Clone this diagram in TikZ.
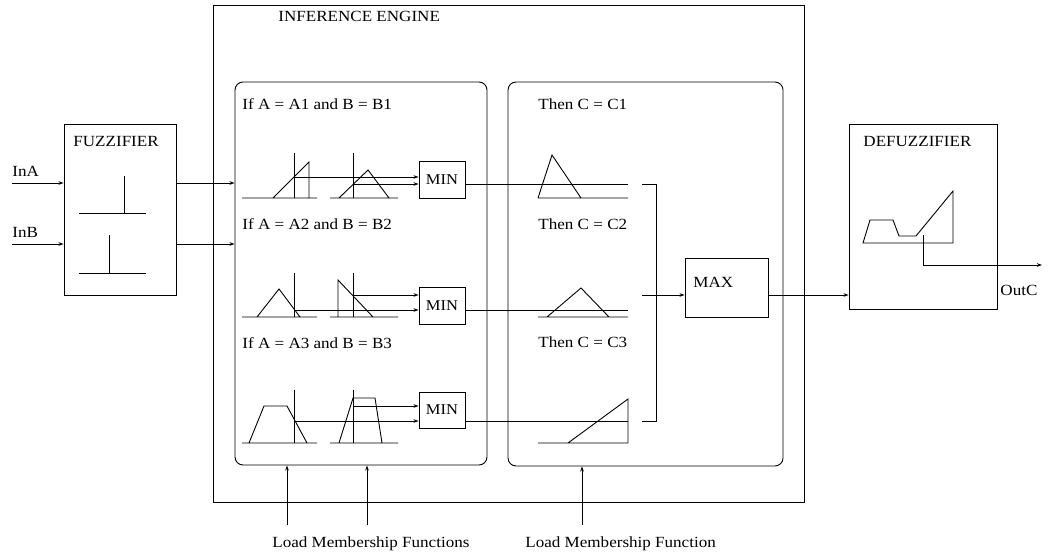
\documentclass[tikz,border=0pt]{standalone}
\usepackage{fontspec}
\setmainfont{Liberation Serif}[FakeStretch=1.1]
\usetikzlibrary{arrows.meta}
\begin{document}
\begin{tikzpicture}[x=1pt,y=-1pt,
  line width=0.9pt,
  >={Stealth[length=5pt,width=3.5pt]},
  arr/.style={->},
  blk/.style={draw,rectangle,inner sep=0pt},
  rbox/.style={draw,rectangle,rounded corners=8pt,inner sep=0pt},
  txt/.style={anchor=west,inner sep=0pt,text height=11pt,text depth=3pt,font=\fontsize{15.5}{18}\selectfont},
  ctxt/.style={inner sep=0pt,font=\fontsize{15}{18}\selectfont}]
\useasboundingbox (0,0) rectangle (1051,556);

% blocks
\node[blk,minimum width=112pt,minimum height=171pt] (fz) at (120,209.5) {};
\node[blk,minimum width=591pt,minimum height=497pt] (ie) at (508.5,253.5) {};
\node[rbox,minimum width=252pt,minimum height=383pt] (lb) at (361,273.5) {};
\node[rbox,minimum width=275pt,minimum height=384pt] (rb) at (645.5,274) {};
\node[blk,minimum width=46pt,minimum height=37pt,ctxt] (min1) at (442,179.5) {MIN};
\node[blk,minimum width=46pt,minimum height=37pt,ctxt] (min2) at (442,305.5) {MIN};
\node[blk,minimum width=46pt,minimum height=36pt,ctxt] (min3) at (442,410) {MIN};
\node[blk,minimum width=83pt,minimum height=59pt] (max) at (726.5,287.5) {};
\node[blk,minimum width=148pt,minimum height=185pt] (df) at (923,216.5) {};

% texts
\node[txt] (tfz) at (73,143) {FUZZIFIER};
\node[txt] (tina) at (12,173) {InA};
\node[txt] (tinb) at (12,233) {InB};
\node[txt] (tie) at (278,18) {INFERENCE ENGINE};
\node[txt] (if1) at (242,106) {If A = A1 and B = B1};
\node[txt] (if2) at (242,225) {If A = A2 and B = B2};
\node[txt] (if3) at (242,344) {If A = A3 and B = B3};
\node[txt] (th1) at (538,106) {Then C = C1};
\node[txt] (th2) at (538,225) {Then C = C2};
\node[txt] (th3) at (538,343) {Then C = C3};
\node[txt] (tmax) at (693,283) {MAX};
\node[txt] (tdf) at (863,143) {DEFUZZIFIER};
\node[txt] (tout) at (1000,291) {OutC};
\node[txt] (ld1) at (272,543) {Load Membership Functions};
\node[txt] (ld2) at (525,543) {Load Membership Function};

% inputs
\coordinate (ina) at (12,183);
\coordinate (inb) at (12,244);
\draw[arr] (ina) -- (ina -| fz.west);
\draw[arr] (inb) -- (inb -| fz.west);
\draw[arr] (fz.east |- ina) -- (lb.west |- ina);
\draw[arr] (fz.east |- inb) -- (lb.west |- inb);

% fuzzifier symbols
\draw (79,213) -- (146,213) (124,213) -- (124,176);
\draw (79,273) -- (146,273) (109,273) -- (109,235);

% row 1
\draw (242,198) -- (317,198) (273,198) -- (309,162) -- (309,198);
\draw (294,153) -- (294,198);
\draw (330,198) -- (398,198) (339,198) -- (368,170) -- (389,198);
\draw (353,153) -- (353,198);
\coordinate (a1) at (294,177);
\coordinate (b1) at (353,184);
\draw[arr] (a1) -- (a1 -| min1.west);
\draw[arr] (b1) -- (b1 -| min1.west);

% row 2
\draw (242,317) -- (317,317) (257,317) -- (279,289) -- (300,317);
\draw (294,273) -- (294,317);
\draw (330,317) -- (398,317) (338,317) -- (338,280) -- (373,317);
\draw (353,273) -- (353,317);
\coordinate (a2) at (294,310);
\coordinate (b2) at (353,295);
\draw[arr] (b2) -- (b2 -| min2.west);
\draw[arr] (a2) -- (a2 -| min2.west);

% row 3
\draw (242,443) -- (317,443) (249,443) -- (264,406) -- (287,406) -- (307,443);
\draw (294,390) -- (294,443);
\draw (330,443) -- (398,443) (339,443) -- (353,398) -- (375,398) -- (382,443);
\draw (353,390) -- (353,443);
\coordinate (a3) at (294,421);
\coordinate (b3) at (353,406);
\draw[arr] (b3) -- (b3 -| min3.west);
\draw[arr] (a3) -- (a3 -| min3.west);

% consequents
\coordinate (c1) at (628,184);
\coordinate (c2) at (628,310);
\coordinate (c3) at (628,421);
\draw (min1.east |- c1) -- (c1);
\draw (min2.east |- c2) -- (c2);
\draw (min3.east |- c3) -- (c3);
\draw (538,198) -- (628,198) (538,198) -- (552,155) -- (581,198);
\draw (538,317) -- (628,317) (547,317) -- (581,288) -- (609,317);
\draw (538,443) -- (628,443) (568,443) -- (628,399) -- (628,443);

% bracket and max
\coordinate (k1) at (642,184);
\coordinate (k3) at (642,421);
\coordinate (bm) at (642,295);
\draw (k1) -- (656,184) -- (656,421) -- (k3);
\draw[arr] (bm) -- (bm -| max.west);
\draw[arr] (max.east |- bm) -- (df.west |- bm);

% defuzzifier
\draw (863,243) -- (870,220) -- (893,220) -- (899,236) -- (916,236) -- (953,191) -- (953,243) -- cycle;
\coordinate (dfo) at (923,235);
\coordinate (outc) at (1042,265);
\draw[arr] (dfo) |- (outc);

% load arrows
\coordinate (l1) at (287,525);
\coordinate (l2) at (367,525);
\coordinate (l3) at (582,525);
\draw[arr] (l1) -- (l1 |- lb.south);
\draw[arr] (l2) -- (l2 |- lb.south);
\draw[arr] (l3) -- (l3 |- rb.south);
\end{tikzpicture}
\end{document}
